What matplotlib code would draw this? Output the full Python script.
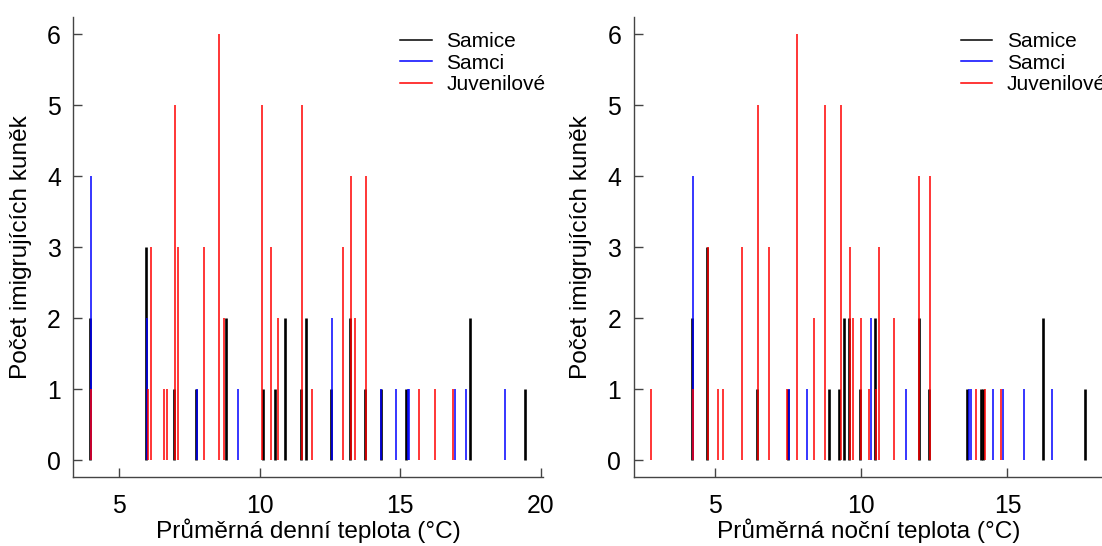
import matplotlib
matplotlib.use("Agg")
import matplotlib.pyplot as plt
from matplotlib.lines import Line2D

plt.rcParams["font.family"] = ["Liberation Sans", "DejaVu Sans"]

# ---- daily mean temperature panel ----
DAY_FEMALE_X = [3.95, 5.95, 6.95, 7.73, 8.79, 10.13, 10.55, 10.90, 11.47, 11.63,
                12.53, 13.21, 13.75, 14.30, 15.22, 17.48, 19.44]
DAY_FEMALE_N = [2, 3, 1, 1, 2, 1, 1, 2, 1, 2, 1, 2, 1, 1, 1, 2, 1]
DAY_MALE_X = [4.00, 5.97, 7.77, 9.21, 12.57, 14.33, 14.85, 15.27, 15.32, 16.96, 17.33, 18.73]
DAY_MALE_N = [4, 2, 1, 1, 2, 1, 1, 1, 1, 1, 1, 1]
DAY_JUV_X = [3.98, 6.01, 6.12, 6.60, 6.69, 6.99, 7.08, 8.00, 8.54, 8.73, 10.07, 10.40,
             10.63, 11.51, 11.87, 12.95, 13.25, 13.39, 13.78, 15.67, 16.22, 16.89]
DAY_JUV_N = [1, 1, 3, 1, 1, 5, 3, 3, 6, 2, 5, 3, 2, 5, 1, 3, 4, 2, 4, 1, 1, 1]

# ---- nightly mean temperature panel ----
NIGHT_FEMALE_X = [4.22, 4.74, 6.45, 7.50, 8.91, 9.25, 9.42, 9.60, 9.96, 10.48,
                  11.96, 12.32, 13.61, 14.11, 14.16, 16.21, 17.66]
NIGHT_FEMALE_N = [2, 3, 1, 1, 1, 1, 2, 2, 1, 2, 2, 1, 1, 1, 1, 2, 1]
NIGHT_MALE_X = [4.26, 7.53, 8.15, 10.34, 11.53, 13.67, 13.75, 14.50, 14.84, 15.55, 16.52]
NIGHT_MALE_N = [4, 1, 1, 2, 1, 1, 1, 1, 1, 1, 1]
NIGHT_JUV_X = [2.82, 4.26, 4.77, 5.10, 5.28, 5.93, 6.48, 6.85, 7.46, 7.82, 8.39, 8.76,
               9.30, 9.62, 9.71, 10.00, 10.28, 10.51, 10.60, 11.11, 11.99, 12.36,
               13.93, 14.24, 14.77]
NIGHT_JUV_N = [1, 1, 3, 1, 1, 3, 5, 3, 1, 6, 2, 5, 5, 3, 2, 2, 1, 1, 3, 2, 4, 4, 1, 1, 1]

GROUPS = ["Samice", "Samci", "Juvenilové"]
COLORS = ["#000000", "#0000ff", "#ff0000"]
WIDTHS = [1.9, 1.1, 1.1]

Y_TICKS = [0, 1, 2, 3, 4, 5, 6]
Y_LABEL = "Počet imigrujících kuněk"


def draw_panel(ax, series, xlabel, xlim, xticks):
    for (xs, ns), color, lw in zip(series, COLORS, WIDTHS):
        ax.vlines(xs, 0, ns, colors=color, linewidth=lw)

    ax.set_xlim(*xlim)
    ax.set_ylim(-0.244, 6.24)
    ax.set_xticks(xticks)
    ax.set_yticks(Y_TICKS)
    ax.set_xlabel(xlabel, fontsize=17.6, labelpad=0)
    ax.set_ylabel(Y_LABEL, fontsize=17.6, labelpad=11)

    for side in ("top", "right"):
        ax.spines[side].set_visible(False)
    for side in ("left", "bottom"):
        ax.spines[side].set_color("#444444")
        ax.spines[side].set_linewidth(1.0)
    ax.tick_params(axis="both", direction="in", length=6.5, width=1.0,
                   color="#444444", labelsize=17.8)
    ax.tick_params(axis="x", pad=12)
    ax.tick_params(axis="y", pad=9)

    # legend sits in the upper-right corner, no frame, like the R original
    handles = [Line2D([], [], color=c, linewidth=1.1) for c in COLORS]
    ax.legend(handles, GROUPS, loc="upper left", bbox_to_anchor=(0.696, 0.968),
              frameon=False, fontsize=15, borderpad=0, borderaxespad=0,
              handlelength=1.5, handletextpad=0.7, labelspacing=0.12)


def main():
    fig = plt.figure(figsize=(11.02, 5.46), dpi=100)
    ax1 = fig.add_axes([0.0665, 0.1258, 0.4265, 0.8425])
    ax2 = fig.add_axes([0.575, 0.1258, 0.4265, 0.8425])

    draw_panel(ax1,
               [(DAY_FEMALE_X, DAY_FEMALE_N), (DAY_MALE_X, DAY_MALE_N), (DAY_JUV_X, DAY_JUV_N)],
               "Průměrná denní teplota (°C)", (3.36, 20.09), [5, 10, 15, 20])
    draw_panel(ax2,
               [(NIGHT_FEMALE_X, NIGHT_FEMALE_N), (NIGHT_MALE_X, NIGHT_MALE_N), (NIGHT_JUV_X, NIGHT_JUV_N)],
               "Průměrná noční teplota (°C)", (2.22, 18.29), [5, 10, 15])

    fig.savefig("out.png", dpi=100)
    plt.close(fig)


if __name__ == "__main__":
    main()
